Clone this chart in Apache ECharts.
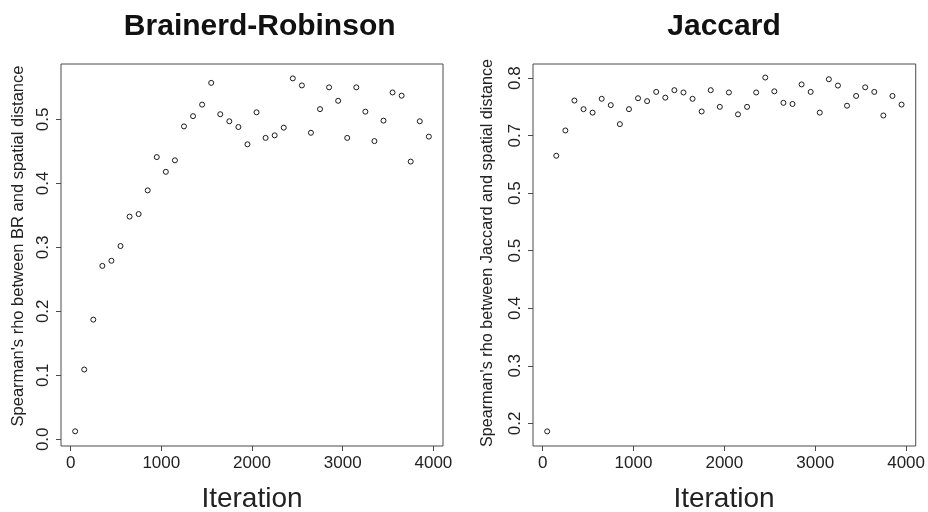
<!DOCTYPE html>
<html>
<head>
<meta charset="utf-8">
<script src="https://cdn.jsdelivr.net/npm/echarts@6/dist/echarts.min.js"></script>
<style>html,body{margin:0;padding:0;background:#fff;}#c{width:928px;height:512px;}</style>
</head>
<body>
<div id="c"></div>
<script>
// ---- data ----
const iterations = [50,150,250,350,450,550,650,750,850,950,1050,1150,1250,1350,1450,1550,1650,1750,1850,1950,
  2050,2150,2250,2350,2450,2550,2650,2750,2850,2950,3050,3150,3250,3350,3450,3550,3650,3750,3850,3950];
const rhoBR = [0.0125,0.109,0.187,0.271,0.279,0.302,0.348,0.352,0.389,0.441,0.418,0.436,0.489,0.505,0.523,0.557,0.508,0.497,0.488,0.461,
  0.511,0.471,0.475,0.487,0.564,0.553,0.479,0.516,0.550,0.529,0.471,0.550,0.512,0.466,0.498,0.542,0.537,0.434,0.497,0.473];
const rhoJaccard = [0.186,0.665,0.709,0.761,0.746,0.740,0.764,0.753,0.720,0.746,0.765,0.760,0.776,0.766,0.779,0.775,0.764,0.742,0.779,0.750,
  0.775,0.737,0.750,0.775,0.801,0.777,0.757,0.755,0.789,0.776,0.740,0.798,0.787,0.752,0.769,0.784,0.776,0.735,0.769,0.754];
const xTicks = [0,1000,2000,3000,4000];
const xTickLabels = ["0","1000","2000","3000","4000"];
const yTicksL = [0.0,0.1,0.2,0.3,0.4,0.5];
const yTickLabelsL = ["0.0","0.1","0.2","0.3","0.4","0.5"];
const yTicksR = [0.2,0.3,0.4,0.5,0.6,0.7,0.8];
const yTickLabelsR = ["0.2","0.3","0.4","0.5","0.5","0.7","0.8"];
const titles = ["Brainerd-Robinson","Jaccard"];
const xName = "Iteration";
const yNames = ["Spearman's rho between BR and spatial distance","Spearman's rho between Jaccard and spatial distance"];

// ---- chart ----
const FONT = '"Liberation Sans", Arial, Helvetica, sans-serif';
const ink = '#222';
const frame = '#4a4a4a';
function lab(ticks, labels){
  return function(v){
    const i = ticks.findIndex(t => Math.abs(t - v) < 1e-9);
    return i >= 0 ? labels[i] : '';
  };
}
function xAxis(gi){
  return {
    gridIndex: gi, type: 'value', min: -106, max: 4106,
    axisLine: {show: false, onZero: false},
    axisTick: {show: true, length: 5, lineStyle: {color: frame, width: 1}, customValues: xTicks},
    axisLabel: {color: ink, fontFamily: FONT, fontSize: 17, margin: 9, customValues: xTicks, formatter: lab(xTicks, xTickLabels)},
    splitLine: {show: false}
  };
}
function yAxis(gi, mn, mx, ticks, labels){
  return {
    gridIndex: gi, type: 'value', min: mn, max: mx,
    axisLine: {show: false, onZero: false},
    axisTick: {show: true, length: 5, lineStyle: {color: frame, width: 1}, customValues: ticks},
    axisLabel: {color: ink, fontFamily: FONT, fontSize: 17, margin: 9, rotate: 90, customValues: ticks, formatter: lab(ticks, labels)},
    splitLine: {show: false}
  };
}
const chart = echarts.init(document.getElementById('c'), null, {renderer: 'canvas'});
chart.setOption({
  animation: false,
  backgroundColor: '#fff',
  grid: [
    {left: 61, top: 64, width: 382, height: 382, show: true, borderColor: frame, borderWidth: 1, backgroundColor: 'transparent'},
    {left: 533, top: 64, width: 383, height: 382, show: true, borderColor: frame, borderWidth: 1, backgroundColor: 'transparent'}
  ],
  xAxis: [xAxis(0), xAxis(1)],
  yAxis: [
    yAxis(0, -0.0105, 0.5865, yTicksL, yTickLabelsL),
    yAxis(1, 0.1606, 0.8245, yTicksR, yTickLabelsR)
  ],
  graphic: [
    {type: 'text', x: 259.7, y: 27, style: {text: titles[0], fontFamily: FONT, fontWeight: 'bold', fontSize: 30, fill: '#111', align: 'center', verticalAlign: 'middle'}},
    {type: 'text', x: 724, y: 27, style: {text: titles[1], fontFamily: FONT, fontWeight: 'bold', fontSize: 30, fill: '#111', align: 'center', verticalAlign: 'middle'}},
    {type: 'text', x: 252, y: 499, style: {text: xName, fontFamily: FONT, fontSize: 28, fill: ink, align: 'center', verticalAlign: 'middle'}},
    {type: 'text', x: 724, y: 499, style: {text: xName, fontFamily: FONT, fontSize: 28, fill: ink, align: 'center', verticalAlign: 'middle'}},
    {type: 'text', x: 18, y: 246, rotation: Math.PI/2, style: {text: yNames[0], fontFamily: FONT, fontSize: 16.5, fill: ink, align: 'center', verticalAlign: 'middle'}},
    {type: 'text', x: 488, y: 253, rotation: Math.PI/2, style: {text: yNames[1], fontFamily: FONT, fontSize: 16.2, fill: ink, align: 'center', verticalAlign: 'middle'}}
  ],
  series: [
    {type: 'scatter', xAxisIndex: 0, yAxisIndex: 0, symbol: 'circle', symbolSize: 5,
     itemStyle: {color: '#fff', borderColor: '#1a1a1a', borderWidth: 1, opacity: 1},
     data: iterations.map((x, i) => [x, rhoBR[i]])},
    {type: 'scatter', xAxisIndex: 1, yAxisIndex: 1, symbol: 'circle', symbolSize: 5,
     itemStyle: {color: '#fff', borderColor: '#1a1a1a', borderWidth: 1, opacity: 1},
     data: iterations.map((x, i) => [x, rhoJaccard[i]])}
  ]
});
</script>
</body>
</html>
